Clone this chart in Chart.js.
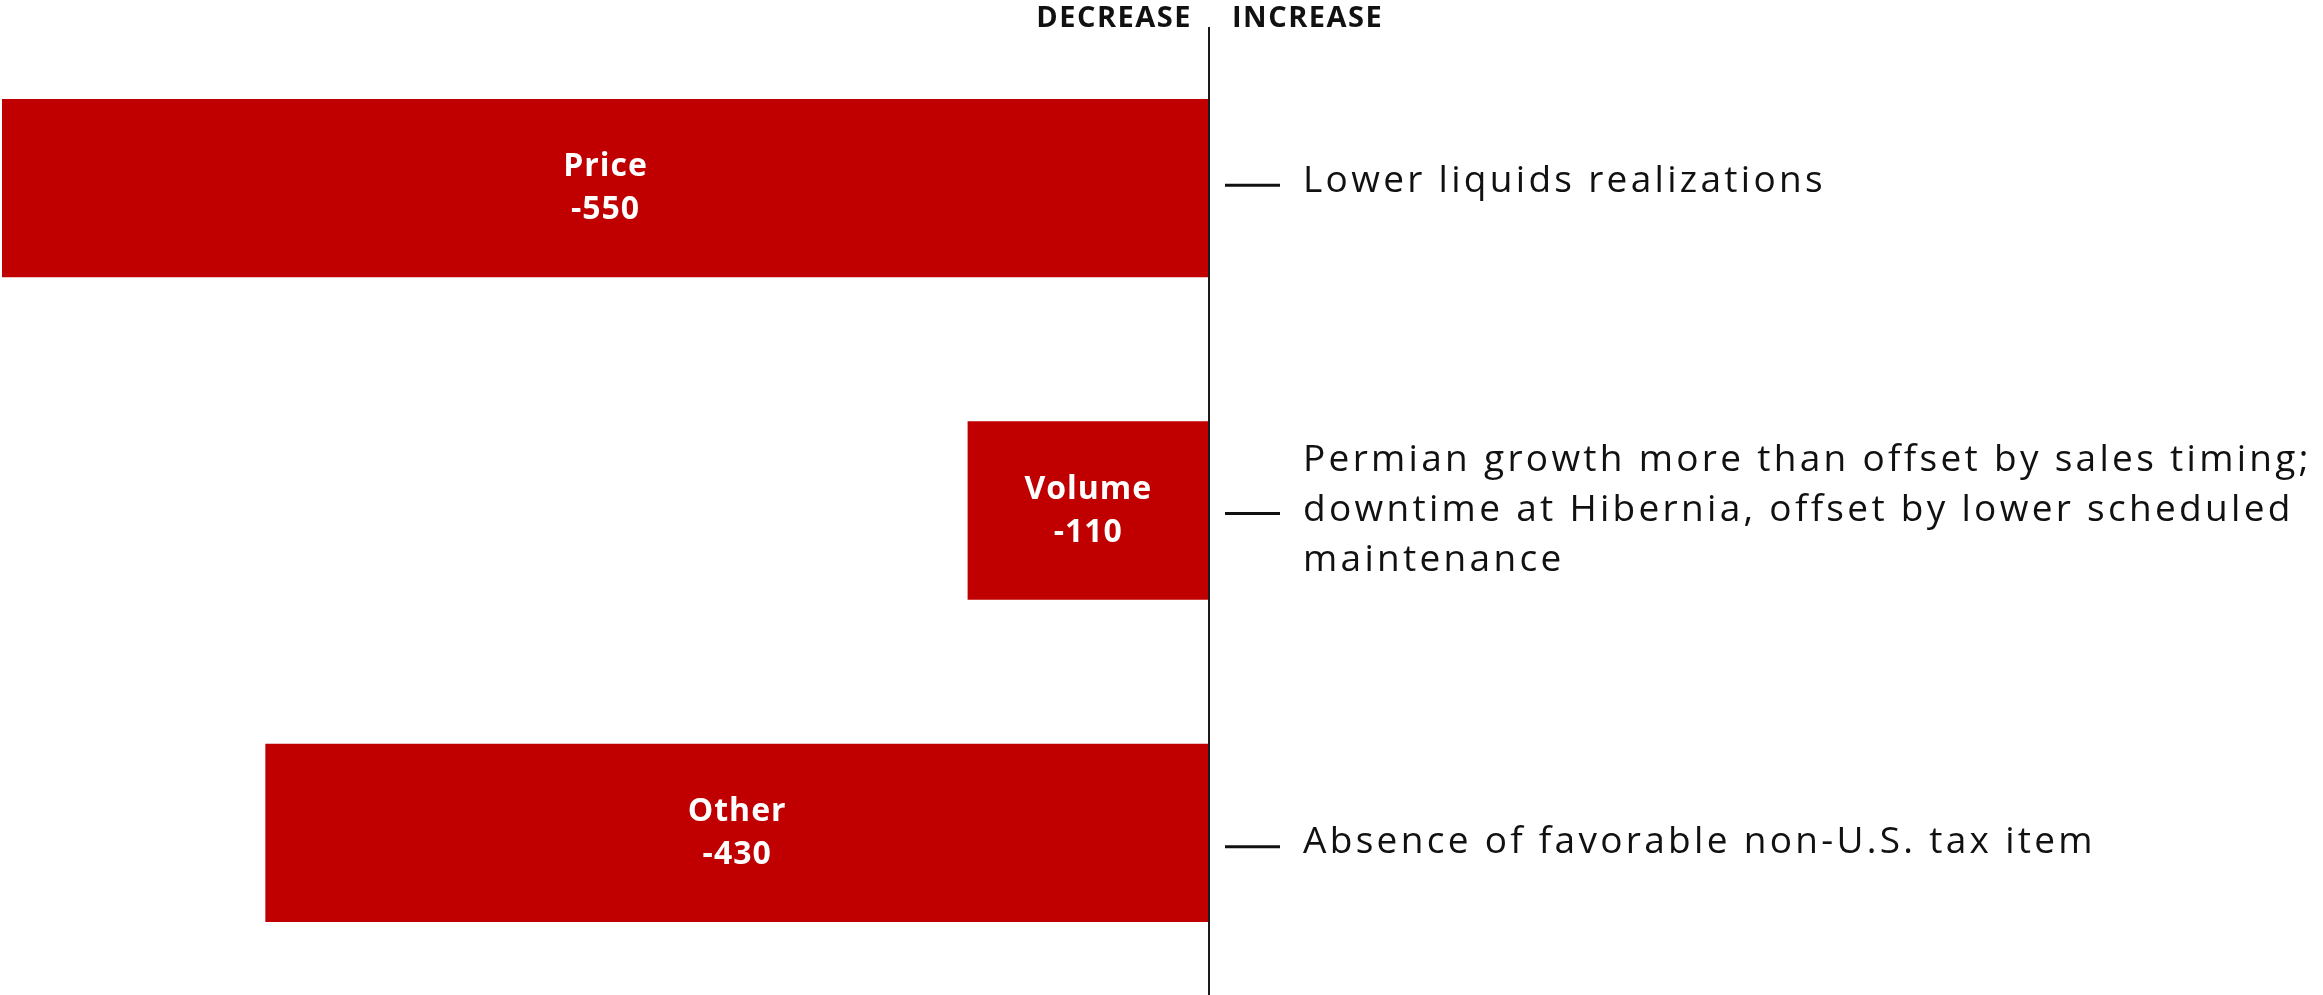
<!DOCTYPE html>
<html>
<head>
<meta charset="utf-8">
<script src="https://cdn.jsdelivr.net/npm/chart.js@4"></script>
<style>
  html, body { margin: 0; padding: 0; background: #fff; }
  #wrap { width: 2323px; height: 995px; position: relative; }
</style>
</head>
<body>
<div id="wrap"><canvas id="bridgeChart"></canvas></div>
<script>
// data
const categories = ['Price', 'Volume', 'Other'];
const changes = [-550, -110, -430];
const notes = [
  ['Lower liquids realizations'],
  ['Permian growth more than offset by sales timing;',
   'downtime at Hibernia, offset by lower scheduled',
   'maintenance'],
  ['Absence of favorable non-U.S. tax item']
];
const sideLabels = ['DECREASE', 'INCREASE'];

const barRed = '#C00000';
const ink = '#111111';

// labels, center line, notes
const overlay = {
  id: 'overlay',
  afterDatasetsDraw(chart) {
    const ctx = chart.ctx;
    const x = chart.scales.x;
    const area = chart.chartArea;
    const x0 = x.getPixelForValue(0);
    // small nudges so notes sit like the original slide
    const dashNudge = [-3, 3, 14];
    const textNudge = [-7, 0, 10];

    ctx.save();
    // center line
    ctx.strokeStyle = '#1a1a1a';
    ctx.lineWidth = 2;
    ctx.beginPath();
    ctx.moveTo(x0, area.top);
    ctx.lineTo(x0, chart.height);
    ctx.stroke();

    // header
    ctx.fillStyle = ink;
    ctx.font = 'bold 29px "Open Sans"';
    ctx.letterSpacing = '1.5px';
    ctx.textBaseline = 'alphabetic';
    ctx.textAlign = 'right';
    ctx.fillText(sideLabels[0], x0 - 17, 27);
    ctx.textAlign = 'left';
    ctx.fillText(sideLabels[1], x0 + 23, 27);

    const meta = chart.getDatasetMeta(0);
    meta.data.forEach((bar, i) => {
      const cy = bar.y;
      const cx = (bar.x + bar.base) / 2;
      // bar label
      ctx.fillStyle = '#fff';
      ctx.font = 'bold 32px "Open Sans"';
      ctx.letterSpacing = '1px';
      ctx.textAlign = 'center';
      ctx.textBaseline = 'middle';
      ctx.fillText(categories[i], cx, cy - 21);
      ctx.fillText(String(changes[i]), cx, cy + 22);

      // dash
      const dy = cy + dashNudge[i];
      ctx.strokeStyle = ink;
      ctx.lineWidth = 3;
      ctx.beginPath();
      ctx.moveTo(x0 + 16, dy);
      ctx.lineTo(x0 + 71, dy);
      ctx.stroke();

      // note
      const lines = notes[i];
      const lh = 50;
      ctx.fillStyle = ink;
      ctx.font = '37px "Open Sans"';
      ctx.letterSpacing = '3.3px';
      ctx.textAlign = 'left';
      ctx.textBaseline = 'middle';
      const startY = cy + textNudge[i] - (lines.length - 1) * lh / 2;
      lines.forEach((t, j) => ctx.fillText(t, x0 + 94, startY + j * lh));
    });
    ctx.restore();
  }
};

new Chart(document.getElementById('bridgeChart'), {
  type: 'bar',
  data: {
    labels: categories,
    datasets: [{
      data: changes,
      backgroundColor: barRed,
      borderWidth: 0,
      barPercentage: 0.553,
      categoryPercentage: 1
    }]
  },
  options: {
    indexAxis: 'y',
    responsive: true,
    maintainAspectRatio: false,
    animation: false,
    layout: { padding: { left: 2, right: 1114, top: 27, bottom: 1 } },
    plugins: {
      legend: { display: false },
      tooltip: { enabled: false }
    },
    scales: {
      x: { min: -550, max: 0, display: false, grid: { display: false } },
      y: { display: false, grid: { display: false } }
    }
  },
  plugins: [overlay]
});
</script>
</body>
</html>
